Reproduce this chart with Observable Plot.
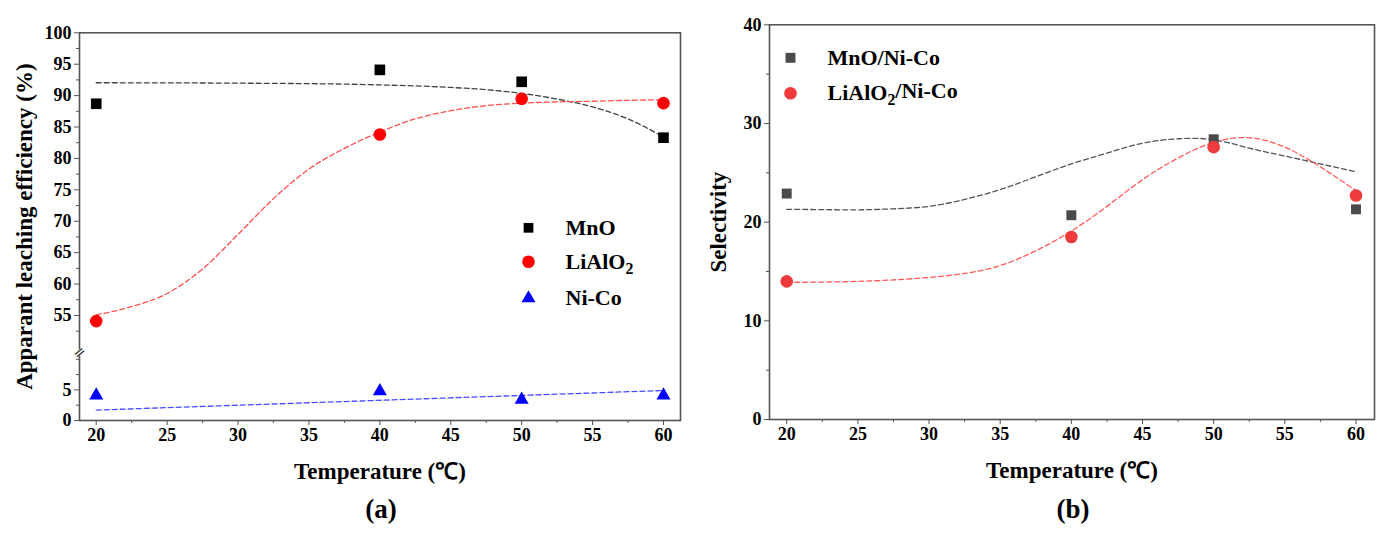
<!DOCTYPE html>
<html>
<head>
<meta charset="utf-8">
<script src="https://cdn.jsdelivr.net/npm/d3@7"></script>
<script src="https://cdn.jsdelivr.net/npm/@observablehq/plot@0.6"></script>
<style>
  html, body { margin: 0; padding: 0; background: #fff; }
  #wrap { position: relative; width: 1391px; height: 538px; overflow: hidden; background: #fff; }
  .panel { position: absolute; top: 0; }
  .cap { position: absolute; top: 494px; font-family: 'Liberation Serif', serif; font-weight: bold; font-size: 27px; transform: translateX(-50%); color: #000; }
  g[aria-label="x-axis label"], g[aria-label="y-axis label"] { font-size: 23px; }
</style>
</head>
<body>
<div id="wrap">
  <div id="pa" class="panel" style="left:0px"></div>
  <div id="pb" class="panel" style="left:696px"></div>
  <div class="cap" style="left:381px">(a)</div>
  <div class="cap" style="left:1073px">(b)</div>
</div>
<script>
// ---------- data ----------
const temps = [20, 40, 50, 60];
const seriesA = ["MnO", "LiAlO₂", "Ni-Co"];
const mnoEff = [88.7, 94.1, 92.2, 83.3];
const lialo2Eff = [54.1, 83.8, 89.5, 88.8];
const nicoEff = [4.1, 4.8, 3.4, 4.1];

const fitTemps = [20, 22.5, 25, 27.5, 30, 32.5, 35, 37.5, 40, 42.5, 45, 47.5, 50, 52.5, 55, 57.5, 60];
const mnoEffFit = [92.05, 92.04, 92.03, 92.01, 91.98, 91.95, 91.9, 91.83, 91.7, 91.55, 91.3, 90.95, 90.35, 89.45, 88.2, 86.3, 83.4];
const lialo2EffFit = [55.1, 56.4, 58.5, 62.4, 67.9, 73.6, 78.3, 81.6, 84.2, 86.3, 87.6, 88.4, 88.8, 89.0, 89.1, 89.25, 89.35];
const nicoFitTemps = [20, 60];
const nicoEffFit = [1.7, 4.9];

const seriesB = ["MnO/Ni-Co", "LiAlO₂/Ni-Co"];
const mnoSel = [22.9, 20.7, 28.4, 21.3];
const lialo2Sel = [14.0, 18.5, 27.6, 22.7];
const mnoSelFit = [21.3, 21.27, 21.25, 21.35, 21.6, 22.3, 23.3, 24.6, 25.9, 27.0, 28.0, 28.45, 28.35, 27.5, 26.7, 25.9, 25.1];
const lialo2SelFit = [13.9, 13.93, 14.0, 14.15, 14.4, 14.8, 15.6, 17.1, 19.1, 21.6, 24.3, 26.5, 28.1, 28.55, 27.6, 25.6, 23.2];

const xTicks = [20, 25, 30, 35, 40, 45, 50, 55, 60];
const xMinor = [22.5, 27.5, 32.5, 37.5, 42.5, 47.5, 52.5, 57.5];
const yTicksA = [0, 5, 55, 60, 65, 70, 75, 80, 85, 90, 95, 100];
const yMinorA = [2.5, 7.5, 10, 52.5, 57.5, 62.5, 67.5, 72.5, 77.5, 82.5, 87.5, 92.5, 97.5];
const yBreakA = [0, 10.7, 49.5, 100];   // broken-axis domain: lower part 0–10.7, upper part 49.5–100
const yBreakMid = [30];
const yTicksB = [0, 10, 20, 30, 40];
const yMinorB = [5, 15, 25, 35];

const zip = (xs, ys) => xs.map((x, i) => ({x, y: ys[i]}));

const FONT = "'Liberation Serif', 'Times New Roman', serif";
const AX = "#555";
const dash = "5,3";

function fixSub(svg) {
  d3.select(svg).selectAll("text").each(function () {
    const t = this.textContent;
    if (t.includes("₂") && this.children.length === 0) {
      const [a, b] = t.split("₂");
      const sel = d3.select(this);
      sel.text("");
      sel.append("tspan").text(a);
      sel.append("tspan").attr("dy", "0.3em").attr("font-size", "0.72em").text("2");
      if (b) sel.append("tspan").attr("dy", "-0.3em").text(b);
    }
  });
  return svg;
}

function legend(names, symbols, fills, rs, dx0, dxText, dys) {
  const marks = [];
  names.forEach((n, i) => {
    marks.push(Plot.dot([n], {frameAnchor: "top-left", dx: dx0, dy: dys[i], symbol: () => symbols[i], fill: fills[i], r: rs[i], stroke: "none"}));
    marks.push(Plot.text([n], {frameAnchor: "top-left", dx: dxText, dy: dys[i], text: d => d, textAnchor: "start", lineAnchor: "middle", fontSize: 22, fill: "#000"}));
  });
  return marks;
}

// ---------- panel (a) ----------
const A = Plot.plot({
  width: 695, height: 480,
  marginLeft: 79, marginRight: 15, marginTop: 32.3, marginBottom: 60,
  style: {fontFamily: FONT, fontWeight: "bold", fontSize: "18px", color: "#000", background: "transparent", overflow: "visible"},
  x: {domain: [18.82, 61.2]},
  y: {type: "linear", domain: yBreakA, range: [420, 354.5, 349.5, 32.3]},
  marks: [
    Plot.frame({stroke: AX, strokeWidth: 1.6}),
    Plot.axisX(xTicks, {tickSize: 5, tickPadding: 3, fontSize: 18, stroke: AX, label: "Temperature (℃)", labelAnchor: "center", labelOffset: 58, labelArrow: "none"}),
    Plot.axisX(xMinor, {tickSize: 3, stroke: AX, tickFormat: () => "", label: null}),
    Plot.axisY(yTicksA, {tickSize: 5, tickPadding: 3, fontSize: 18, stroke: AX, label: "Apparant leaching efficiency (%)", labelAnchor: "center", labelOffset: 64, labelArrow: "none"}),
    Plot.axisY(yMinorA, {tickSize: 3, stroke: AX, tickFormat: () => "", label: null}),
    Plot.dot(yBreakMid, {y: d => d, frameAnchor: "left", symbol: "square", r: 3.4, fill: "#fff", stroke: "none"}),
    Plot.text(yBreakMid, {y: d => d, frameAnchor: "left", textAnchor: "middle", text: () => "=", rotate: -40, fontSize: 15, fontFamily: "DejaVu Sans", fontWeight: "normal", fill: "#333"}),
    Plot.line(zip(fitTemps, mnoEffFit), {x: "x", y: "y", curve: "monotone-x", stroke: "#444", strokeWidth: 1.3, strokeDasharray: dash}),
    Plot.line(zip(fitTemps, lialo2EffFit), {x: "x", y: "y", curve: "monotone-x", stroke: "#ff5050", strokeWidth: 1.3, strokeDasharray: dash}),
    Plot.line(zip(nicoFitTemps, nicoEffFit), {x: "x", y: "y", stroke: "#4a4aff", strokeWidth: 1.3, strokeDasharray: dash}),
    Plot.dot(zip(temps, mnoEff), {x: "x", y: "y", symbol: "square", r: 6, fill: "#000"}),
    Plot.dot(zip(temps, lialo2Eff), {x: "x", y: "y", symbol: "circle", r: 6.3, fill: "#ff0000"}),
    Plot.dot(zip(temps, nicoEff), {x: "x", y: "y", symbol: "triangle", r: 5.2, fill: "#0000ff"}),
    ...legend(seriesA, ["square", "circle", "triangle"], ["#000", "#ff0000", "#0000ff"], [5.5, 6.3, 5.2], 449, 486, [195, 229, 265.5])
  ]
});
document.getElementById("pa").appendChild(fixSub(A));

// ---------- panel (b) ----------
const B = Plot.plot({
  width: 695, height: 480,
  marginLeft: 73, marginRight: 17, marginTop: 24.3, marginBottom: 61,
  style: {fontFamily: FONT, fontWeight: "bold", fontSize: "18px", color: "#000", background: "transparent", overflow: "visible"},
  x: {domain: [18.79, 61.3]},
  y: {domain: [0, 40]},
  marks: [
    Plot.frame({stroke: AX, strokeWidth: 1.6}),
    Plot.axisX(xTicks, {tickSize: 5, tickPadding: 3, fontSize: 18, stroke: AX, label: "Temperature (℃)", labelAnchor: "center", labelOffset: 58, labelArrow: "none"}),
    Plot.axisX(xMinor, {tickSize: 3, stroke: AX, tickFormat: () => "", label: null}),
    Plot.axisY(yTicksB, {tickSize: 5, tickPadding: 3, fontSize: 18, stroke: AX, label: "Selectivity", labelAnchor: "center", labelOffset: 60, labelArrow: "none"}),
    Plot.axisY(yMinorB, {tickSize: 3, stroke: AX, tickFormat: () => "", label: null}),
    Plot.line(zip(fitTemps, mnoSelFit), {x: "x", y: "y", curve: "natural", stroke: "#555", strokeWidth: 1.3, strokeDasharray: dash}),
    Plot.line(zip(fitTemps, lialo2SelFit), {x: "x", y: "y", curve: "natural", stroke: "#ff5a5a", strokeWidth: 1.3, strokeDasharray: dash}),
    Plot.dot(zip(temps, mnoSel), {x: "x", y: "y", symbol: "square", r: 5.6, fill: "#4a4a4a"}),
    Plot.dot(zip(temps, lialo2Sel), {x: "x", y: "y", symbol: "circle", r: 6.3, fill: "#ef3b3b"}),
    ...legend(seriesB, ["square", "circle"], ["#4a4a4a", "#ef3b3b"], [5.6, 6.3], 21, 58, [33, 68.4])
  ]
});
document.getElementById("pb").appendChild(fixSub(B));
</script>
</body>
</html>
